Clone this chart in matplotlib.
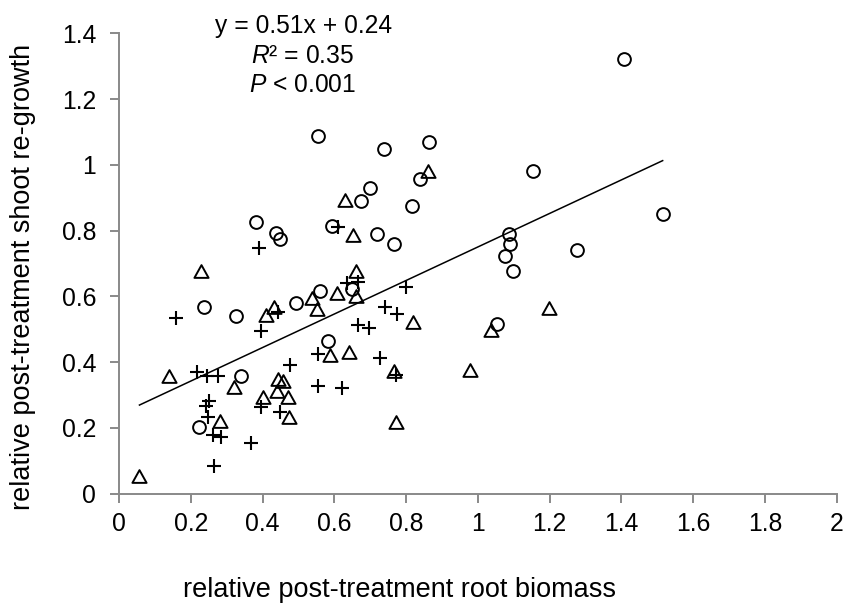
import matplotlib
matplotlib.use("Agg")
import matplotlib.pyplot as plt
import numpy as np
from matplotlib.path import Path

plt.rcParams['font.family'] = ['Liberation Sans', 'DejaVu Sans']
plt.rcParams['mathtext.fontset'] = 'custom'
plt.rcParams['mathtext.it'] = 'Liberation Sans:italic'
plt.rcParams['mathtext.rm'] = 'Liberation Sans'

# circles series
circ_x = [0.381, 0.437, 0.449, 0.594, 0.238, 0.325, 0.492, 0.560, 0.340, 0.223,
          0.582, 1.053, 0.554, 0.739, 0.864, 0.839, 1.153, 0.700, 0.674, 0.816,
          0.720, 0.767, 1.088, 1.090, 1.076, 1.099, 0.649, 1.408, 1.515, 1.277]
circ_y = [0.826, 0.794, 0.775, 0.815, 0.567, 0.541, 0.579, 0.616, 0.356, 0.203,
          0.465, 0.516, 1.088, 1.049, 1.068, 0.957, 0.980, 0.929, 0.891, 0.875,
          0.790, 0.760, 0.790, 0.759, 0.723, 0.677, 0.622, 1.323, 0.850, 0.741]

# triangles series
tri_x = [0.630, 0.229, 0.409, 0.432, 0.539, 0.551, 0.607, 0.139, 0.321, 0.444,
         0.456, 0.439, 0.470, 0.475, 0.400, 0.281, 0.057, 0.588, 0.642, 0.818,
         0.767, 0.772, 0.978, 1.036, 1.197, 0.862, 0.653, 0.661, 0.661]
tri_y = [0.893, 0.678, 0.543, 0.567, 0.594, 0.562, 0.609, 0.358, 0.323, 0.347,
         0.343, 0.313, 0.295, 0.234, 0.295, 0.222, 0.054, 0.422, 0.430, 0.523,
         0.374, 0.217, 0.376, 0.498, 0.564, 0.982, 0.785, 0.677, 0.601]

# plus series
plus_x = [0.390, 0.611, 0.159, 0.444, 0.636, 0.667, 0.217, 0.244, 0.277, 0.396,
          0.477, 0.449, 0.395, 0.252, 0.242, 0.249, 0.263, 0.283, 0.368, 0.266,
          0.554, 0.554, 0.622, 0.741, 0.774, 0.667, 0.698, 0.727, 0.771, 0.800]
plus_y = [0.748, 0.812, 0.533, 0.552, 0.641, 0.642, 0.371, 0.358, 0.356, 0.493,
          0.391, 0.249, 0.264, 0.280, 0.266, 0.234, 0.178, 0.171, 0.155, 0.085,
          0.424, 0.327, 0.320, 0.567, 0.546, 0.513, 0.503, 0.411, 0.361, 0.628]

slope = 0.51
intercept = 0.24

x_ticks = [0, 0.2, 0.4, 0.6, 0.8, 1, 1.2, 1.4, 1.6, 1.8, 2]
x_tick_labels = ['0', '0.2', '0.4', '0.6', '0.8', '1', '1.2', '1.4', '1.6', '1.8', '2']
y_ticks = [0, 0.2, 0.4, 0.6, 0.8, 1, 1.2, 1.4]
y_tick_labels = ['0', '0.2', '0.4', '0.6', '0.8', '1', '1.2', '1.4']

W, H = 846, 603
fig = plt.figure(figsize=(W / 100, H / 100), dpi=100)
ax = fig.add_axes([119 / W, 1 - 493.5 / H, (836.7 - 119) / W, (493.5 - 33.3) / H])

tri_marker = Path([(-1, -0.9), (1, -0.9), (0, 0.9), (-1, -0.9)],
                  [Path.MOVETO, Path.LINETO, Path.LINETO, Path.CLOSEPOLY])

ax.plot(circ_x, circ_y, linestyle='none', marker='o', ms=9.2, mfc='none',
        mec='black', mew=1.4)
ax.plot(tri_x, tri_y, linestyle='none', marker=tri_marker, ms=10.2, mfc='none',
        mec='black', mew=1.4)
ax.plot(plus_x, plus_y, linestyle='none', marker='+', ms=9.8, mec='black', mew=1.5)

all_x = np.array(circ_x + tri_x + plus_x)
lx = np.array([all_x.min(), all_x.max()])
ax.plot(lx, slope * lx + intercept, color='black', lw=1.1)

ax.set_xlim(0, 2)
ax.set_ylim(0, 1.4)
ax.set_xticks(x_ticks)
ax.set_xticklabels(x_tick_labels)
ax.set_yticks(y_ticks)
ax.set_yticklabels(y_tick_labels)

spine_c = '#898989'
for s in ['top', 'right']:
    ax.spines[s].set_visible(False)
for s in ['left', 'bottom']:
    ax.spines[s].set_color(spine_c)
    ax.spines[s].set_linewidth(1.4)
ax.tick_params(axis='both', direction='out', length=6.5, width=1.4, color=spine_c,
               labelsize=17.8, labelcolor='black')
ax.tick_params(axis='x', pad=7)
ax.tick_params(axis='y', pad=10)

fig.text(399 / W, 1 - 597 / H, 'relative post-treatment root biomass',
         ha='center', va='baseline', fontsize=19.5)
fig.text(23.5 / W, 1 - 277 / H, 'relative post-treatment shoot re-growth',
         ha='center', va='center', rotation=90, fontsize=19.5)

fig.text(304 / W, 1 - 33.3 / H, 'y = 0.51x + 0.24', ha='center', va='baseline',
         fontsize=17.7)
fig.text(302 / W, 1 - 62.7 / H, r'$R$² = 0.35', ha='center', va='baseline',
         fontsize=17.7)
fig.text(302 / W, 1 - 91.7 / H, r'$P$ < 0.001', ha='center', va='baseline',
         fontsize=17.7)

fig.savefig('out.png', dpi=100)
